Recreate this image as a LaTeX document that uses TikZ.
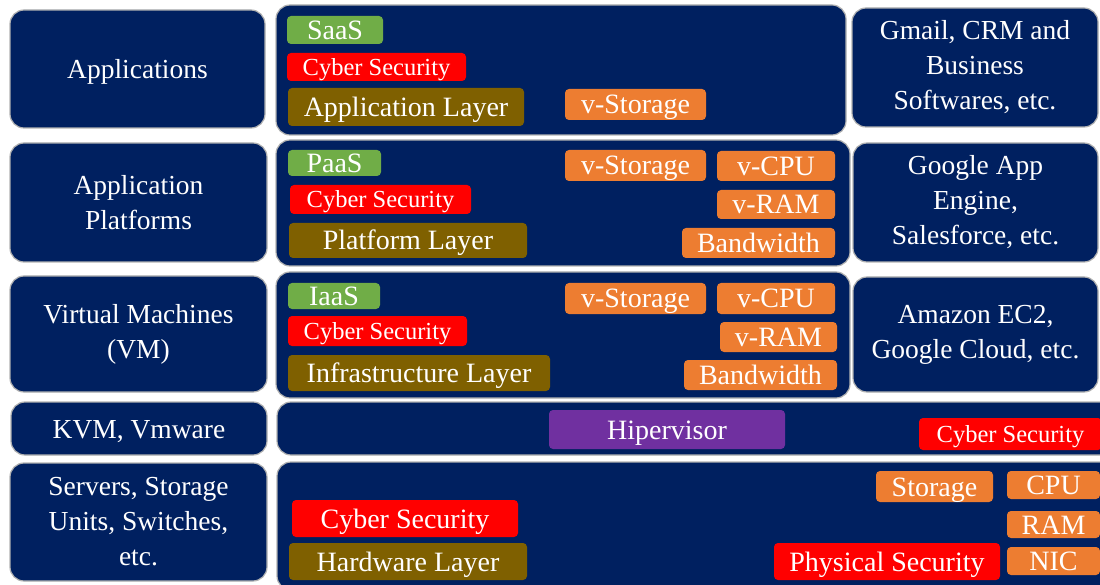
\documentclass[tikz,border=0pt]{standalone}
\usepackage{fontspec}
\setmainfont{Liberation Serif}
\definecolor{navy}{HTML}{002060}
\definecolor{leaf}{HTML}{70AD47}
\definecolor{alarm}{HTML}{FF0000}
\definecolor{mud}{HTML}{7F6000}
\definecolor{amber}{HTML}{ED7D31}
\definecolor{grape}{HTML}{7030A0}
\tikzset{
    panel/.style={draw=gray!60, line width=1.2pt, fill=navy,
        rounded corners=14pt, text=white, align=center, inner sep=0pt,
        font=\fontsize{27.5}{35}\selectfont},
    oneline/.style={text height=20pt, text depth=1pt},
    tag/.style={fill=#1, rounded corners=4pt, text=white, inner sep=0pt,
        font=\fontsize{28}{32}\selectfont,
        text height=20pt, text depth=1pt},
    smalltag/.style={tag=alarm, font=\fontsize{24.5}{28}\selectfont,
        text height=17.5pt, text depth=0.9pt},
    dims/.style 2 args={minimum width=#1pt, minimum height=#2pt}
}
\begin{document}
\begin{tikzpicture}[x=1pt, y=-1pt]
    \useasboundingbox (0,0) rectangle (1100,585);
    \clip (0,0) rectangle (1100,585);

    % Left column
    \node[panel, oneline, dims={255}{118}] (apps) at (137.5,69)
        {Applications};
    \node[panel, dims={257}{119}] (platforms) at (138.5,202.5)
        {Application\\Platforms};
    \node[panel, dims={257}{116}] (vms) at (138.5,334)
        {Virtual Machines\\(VM)};
    \node[panel, oneline, dims={256}{53}] (kvm) at (139,428.5)
        {KVM, Vmware};
    \node[panel, dims={257}{118}] (servers) at (138.5,522)
        {Servers, Storage\\Units, Switches,\\etc.};

    % Right column
    \node[panel, dims={246}{119}] (saasex) at (975,67.5)
        {Gmail, CRM and\\Business\\Softwares, etc.};
    \node[panel, dims={245}{119}] (paasex) at (975.5,202.5)
        {Google App\\Engine,\\Salesforce, etc.};
    \node[panel, dims={245}{115}] (iaasex) at (975.5,334.5)
        {Amazon EC2,\\Google Cloud, etc.};

    % Middle panels
    \node[panel, dims={570}{130}] (saaspanel) at (561,70) {};
    \node[panel, dims={574}{126}] (paaspanel) at (563,203) {};
    \node[panel, dims={574}{126}] (iaaspanel) at (563,335) {};
    \node[panel, dims={838}{53}] (hyppanel) at (696,428.5) {};
    \node[panel, dims={838}{128}] (hwpanel) at (696,526) {};

    % SaaS row
    \node[tag=leaf, dims={96}{28}] (saas) at (335,30) {SaaS};
    \node[smalltag, dims={179}{28}] (saassec) at (376.5,67) {Cyber Security};
    \node[tag=mud, dims={236}{38}] (applayer) at (406,107)
        {Application Layer};
    \node[tag=amber, dims={141}{31}] (saasstore) at (635.5,104.5)
        {v-Storage};

    % PaaS row
    \node[tag=leaf, dims={93}{26}] (paas) at (334.5,163) {PaaS};
    \node[smalltag, dims={181}{29}] (paassec) at (380.5,199.5)
        {Cyber Security};
    \node[tag=mud, dims={238}{35}] (platlayer) at (408,240.5)
        {Platform Layer};
    \node[tag=amber, dims={141}{31}] (paasstore) at (635.5,165.5)
        {v-Storage};
    \node[tag=amber, dims={118}{30}] (paascpu) at (776,166) {v-CPU};
    \node[tag=amber, dims={118}{29}] (paasram) at (776,204.5) {v-RAM};
    \node[tag=amber, dims={153}{30}] (paasbw) at (758.5,243) {Bandwidth};

    % IaaS row
    \node[tag=leaf, dims={92}{26}] (iaas) at (334,296) {IaaS};
    \node[smalltag, dims={179}{30}] (iaassec) at (377.5,331)
        {Cyber Security};
    \node[tag=mud, dims={262}{36}] (infralayer) at (419,373)
        {Infrastructure Layer};
    \node[tag=amber, dims={141}{31}] (iaasstore) at (635.5,298.5)
        {v-Storage};
    \node[tag=amber, dims={118}{31}] (iaascpu) at (776,298.5) {v-CPU};
    \node[tag=amber, dims={117}{30}] (iaasram) at (778.5,337) {v-RAM};
    \node[tag=amber, dims={153}{30}] (iaasbw) at (760.5,375) {Bandwidth};

    % Hypervisor row
    \node[tag=grape, dims={236}{39}] (hyp) at (667,429.5) {Hipervisor};
    \node[smalltag, dims={183}{32}] (hypsec) at (1010.5,434)
        {Cyber Security};

    % Hardware row
    \node[tag=amber, dims={117}{31}] (store) at (934.5,486.5) {Storage};
    \node[tag=amber, dims={93}{28}] (cpu) at (1053.5,485) {CPU};
    \node[tag=amber, dims={93}{27}] (ram) at (1053.5,524.5) {RAM};
    \node[tag=amber, dims={93}{28}] (nic) at (1053.5,561) {NIC};
    \node[tag=alarm, dims={226}{37}] (hwsec) at (405,518.5)
        {Cyber Security};
    \node[tag=mud, dims={238}{37}] (hwlayer) at (408,561.5)
        {Hardware Layer};
    \node[tag=alarm, dims={226}{37}] (physec) at (887,561.5)
        {Physical Security};
\end{tikzpicture}
\end{document}
